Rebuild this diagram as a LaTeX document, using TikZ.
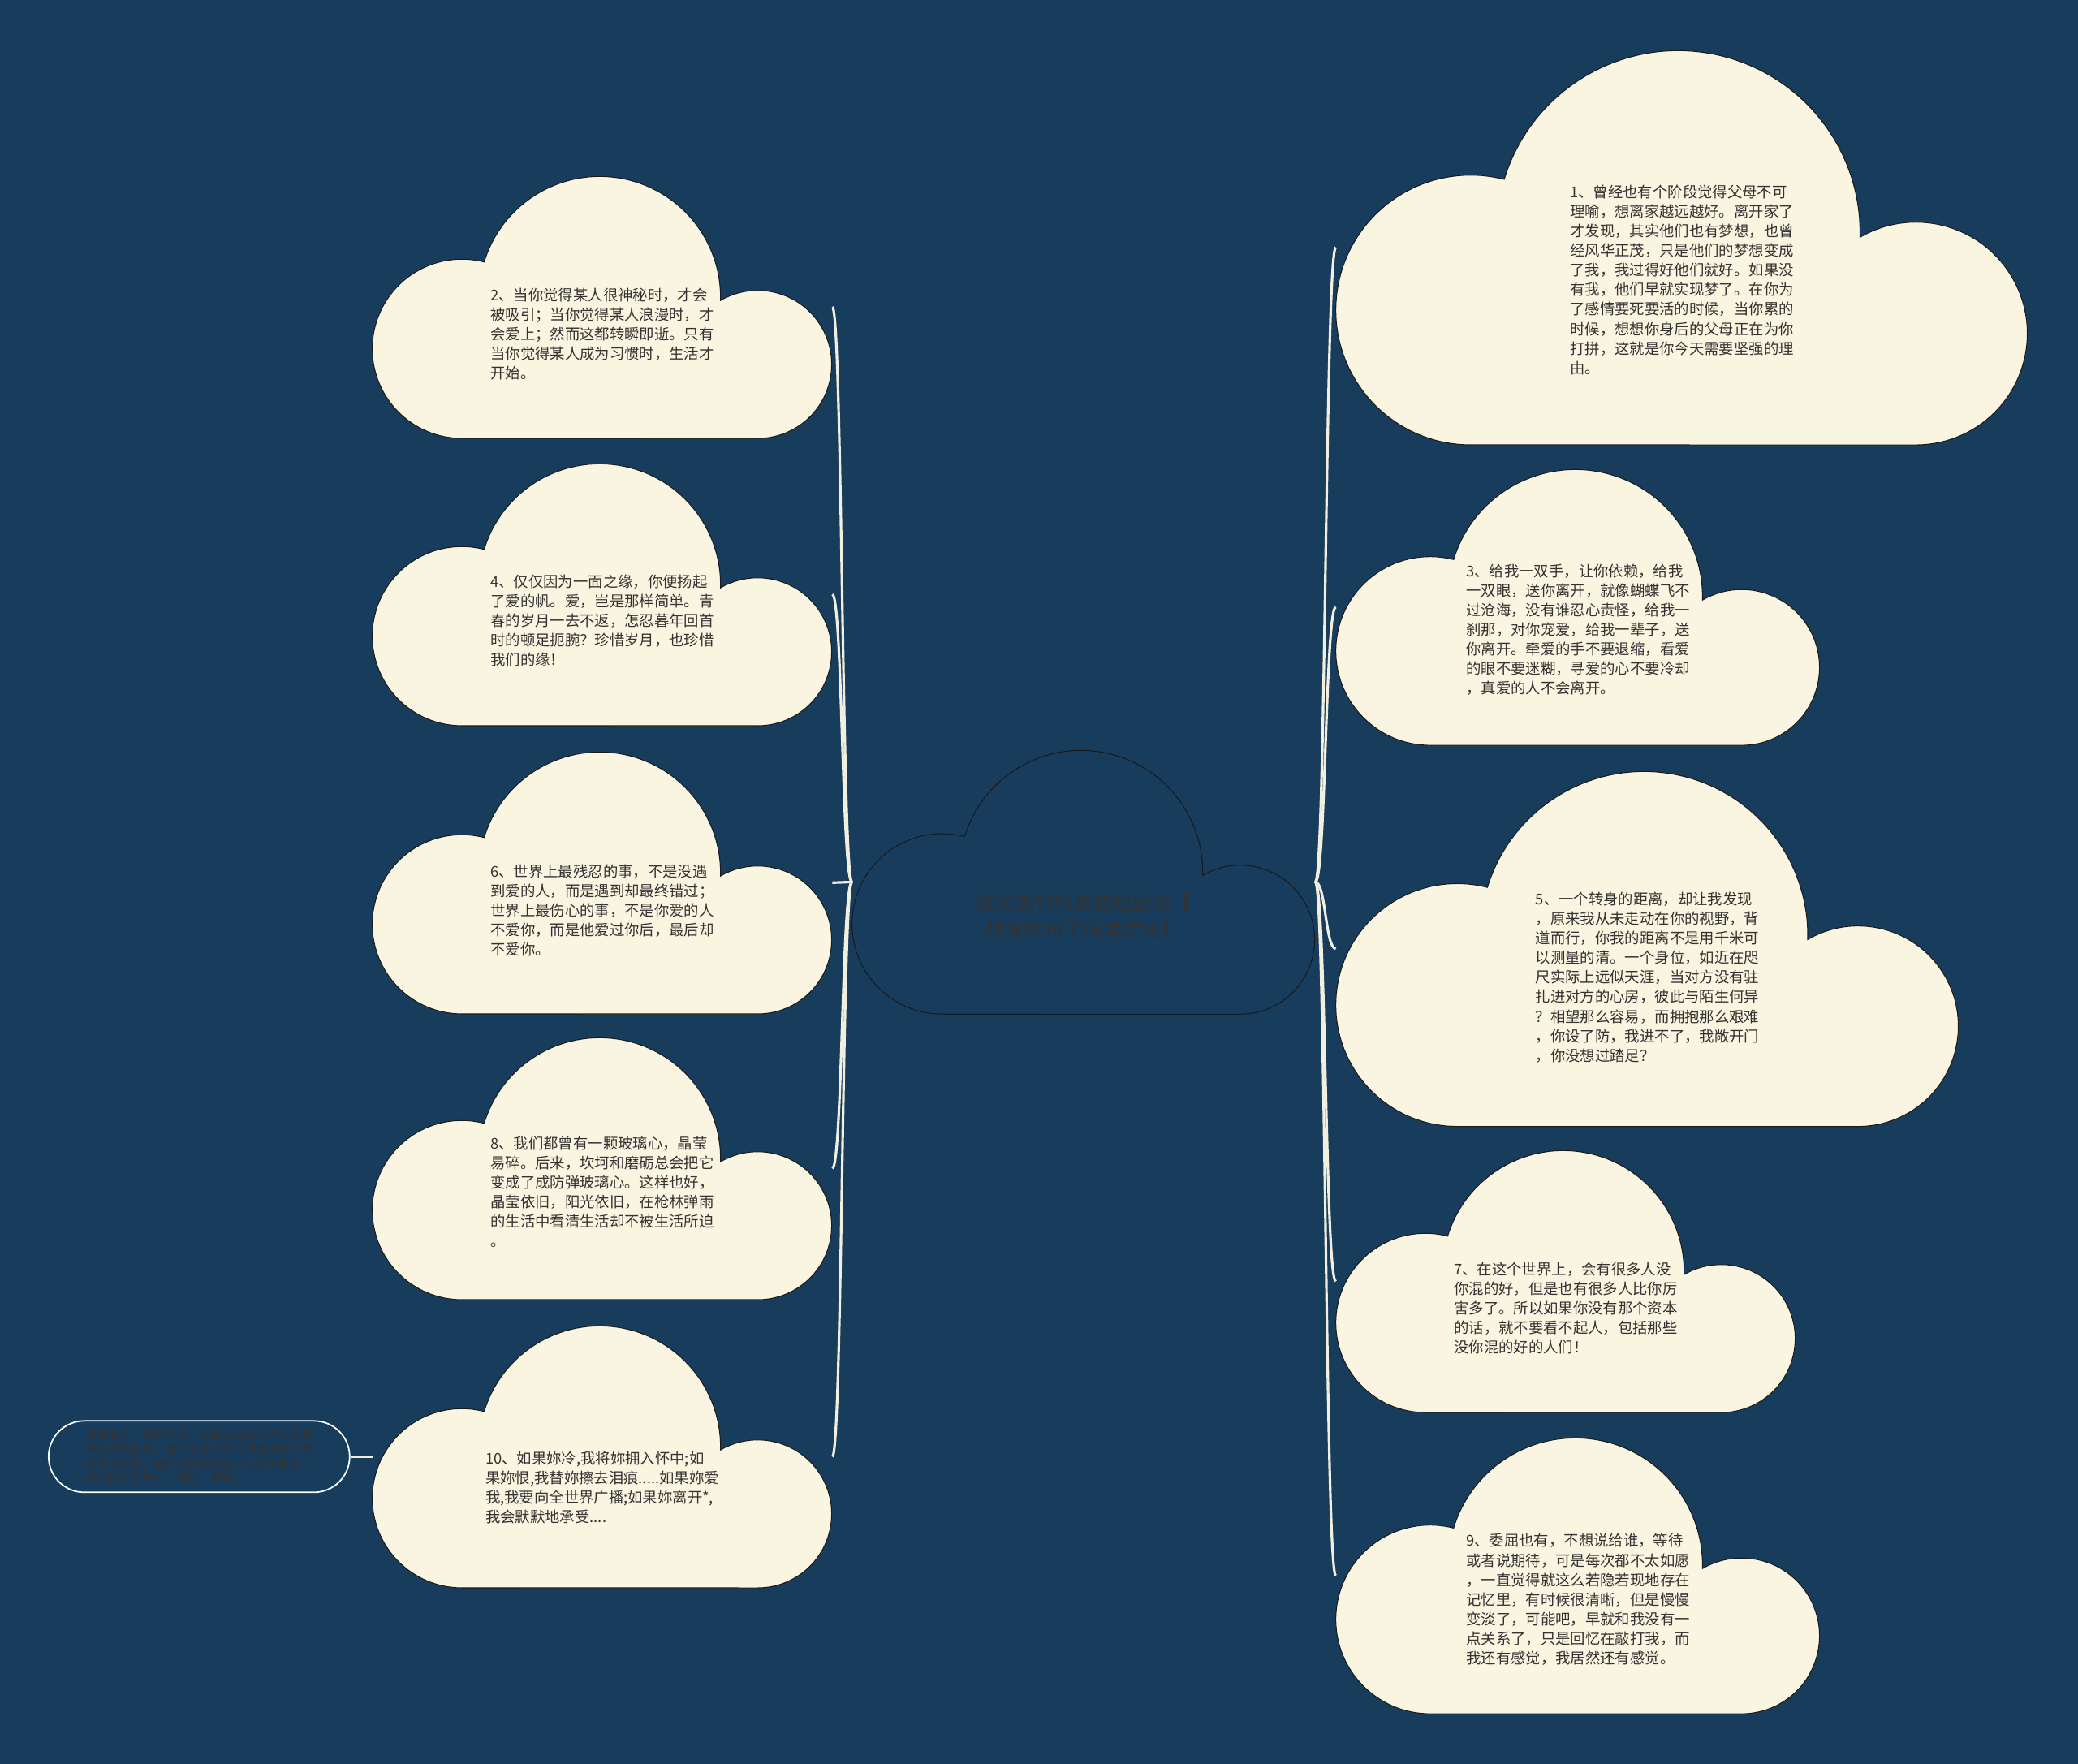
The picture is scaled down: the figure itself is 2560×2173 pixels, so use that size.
\documentclass[tikz,border=0pt]{standalone}
\usepackage{fontspec}
\setmainfont{Noto Sans CJK SC}
\usepackage{tikz}
\usetikzlibrary{positioning,backgrounds}
\definecolor{night}{HTML}{173C5C}
\definecolor{cream}{HTML}{FAF5E0}
\definecolor{ink}{HTML}{333333}
\definecolor{rim}{HTML}{1A1A1A}
\definecolor{thread}{HTML}{F3EFE0}
\tikzset{
  puffbox/.style={rectangle, inner sep=0pt, draw=none},
  puff/.style={fill=cream, draw=rim, line width=0.6pt},
  hub/.style={draw=rim, line width=0.6pt},
  idea/.style={align=left, inner sep=0pt, text=ink, font=\fontsize{10.45pt}{13.7pt}\selectfont},
  headline/.style={align=center, inner sep=0pt, text=ink, font=\fontsize{13.7pt}{18.8pt}\selectfont},
  tipbox/.style={draw=white, line width=1pt, rounded corners=0.88cm, minimum width=7.42cm,
                 minimum height=1.76cm, align=left, inner sep=0pt, text=ink,
                 font=\fontsize{8pt}{10pt}\selectfont},
  link/.style={draw=thread, line width=1.8pt},
}
% cloud outline: name, left, top, width (px), style
\newcommand{\cloudat}[5]{%
  \pgfmathsetmacro{\cloudh}{0.57*#4}%
  \node[puffbox, minimum width=#4*0.02cm, minimum height=\cloudh*0.02cm]
    (#1) at ({#2+#4/2},{-#3-\cloudh/2}) {};
  \begin{scope}[shift={(#1.south west)}, scale=#4]
    \path[#5] (0.195,0) arc[start angle=270, end angle=75.6, radius=0.195]
      arc[start angle=163, end angle=-1.5, radius=0.263]
      arc[start angle=120.2, end angle=-90, radius=0.161] -- cycle;
  \end{scope}}

\begin{document}
\begin{tikzpicture}[x=0.02cm, y=0.02cm]
\useasboundingbox (0,0) rectangle (2560,-2173);
\begin{scope}[on background layer]
\fill[night] (0,0) rectangle (2560,-2173);
\end{scope}

% --- CENTRE ---
\cloudat{title}{1050}{924}{570}{hub}
\node[headline] (titlet) at ([yshift=-0.84cm]title.center)
  {美文美句唯美简短励志【\\朋友的句子唯美简短】};

% --- LEFT ---
\cloudat{q2}{459}{217}{566}{puff}
\node[idea] (q2t) at ([yshift=-0.66cm]q2.center)
  {2、当你觉得某人很神秘时，才会\\被吸引；当你觉得某人浪漫时，才\\会爱上；然而这都转瞬即逝。只有\\当你觉得某人成为习惯时，生活才\\开始。};

\cloudat{q4}{459}{571}{566}{puff}
\node[idea] (q4t) at ([yshift=-0.64cm]q4.center)
  {4、仅仅因为一面之缘，你便扬起\\了爱的帆。爱，岂是那样简单。青\\春的岁月一去不返，怎忍暮年回首\\时的顿足扼腕？珍惜岁月，也珍惜\\我们的缘！};

\cloudat{q6}{459}{926}{566}{puff}
\node[idea] (q6t) at ([yshift=-0.69cm]q6.center)
  {6、世界上最残忍的事，不是没遇\\到爱的人，而是遇到却最终错过；\\世界上最伤心的事，不是你爱的人\\不爱你，而是他爱过你后，最后却\\不爱你。};

\cloudat{q8}{459}{1278}{566}{puff}
\node[idea] (q8t) at ([yshift=-0.58cm]q8.center)
  {8、我们都曾有一颗玻璃心，晶莹\\易碎。后来，坎坷和磨砺总会把它\\变成了成防弹玻璃心。这样也好，\\晶莹依旧，阳光依旧，在枪林弹雨\\的生活中看清生活却不被生活所迫\\。};

\cloudat{q10}{459}{1633}{566}{puff}
\node[idea] (q10t) at ([yshift=-0.76cm]q10.center)
  {10、如果妳冷,我将妳拥入怀中;如\\果妳恨,我替妳擦去泪痕.....如果妳爱\\我,我要向全世界广播;如果妳离开*,\\我会默默地承受....};

\node[tipbox] (notice) [left=0.54cm of q10]
  {温馨提示：图文无关，转载此文是出于传递更\\多信息之目的。若有来源标注错误或侵犯了您\\的合法权益，请作者持权属证明与本网联系，\\我们将及时更正、删除，谢谢。};

% --- RIGHT ---
\cloudat{q1}{1646}{62}{852}{puff}
\node[idea] (q1t) at ([yshift=-0.8cm]q1.center)
  {1、曾经也有个阶段觉得父母不可\\理喻，想离家越远越好。离开家了\\才发现，其实他们也有梦想，也曾\\经风华正茂，只是他们的梦想变成\\了我，我过得好他们就好。如果没\\有我，他们早就实现梦了。在你为\\了感情要死要活的时候，当你累的\\时候，想想你身后的父母正在为你\\打拼，这就是你今天需要坚强的理\\由。};

\cloudat{q3}{1646}{578}{596}{puff}
\node[idea] (q3t) at ([yshift=-0.56cm]q3.center)
  {3、给我一双手，让你依赖，给我\\一双眼，送你离开，就像蝴蝶飞不\\过沧海，没有谁忍心责怪，给我一\\刹那，对你宠爱，给我一辈子，送\\你离开。牵爱的手不要退缩，看爱\\的眼不要迷糊，寻爱的心不要冷却\\，真爱的人不会离开。};

\cloudat{q5}{1646}{950}{767}{puff}
\node[idea] (q5t) at ([yshift=-0.71cm]q5.center)
  {5、一个转身的距离，却让我发现\\，原来我从未走动在你的视野，背\\道而行，你我的距离不是用千米可\\以测量的清。一个身位，如近在咫\\尺实际上远似天涯，当对方没有驻\\扎进对方的心房，彼此与陌生何异\\？相望那么容易，而拥抱那么艰难\\，你设了防，我进不了，我敞开门\\，你没想过踏足？};

\cloudat{q7}{1646}{1417}{566}{puff}
\node[idea] (q7t) at ([yshift=-0.67cm]q7.center)
  {7、在这个世界上，会有很多人没\\你混的好，但是也有很多人比你厉\\害多了。所以如果你没有那个资本\\的话，就不要看不起人，包括那些\\没你混的好的人们！};

\cloudat{q9}{1646}{1771}{596}{puff}
\node[idea] (q9t) at ([yshift=-0.59cm]q9.center)
  {9、委屈也有，不想说给谁，等待\\或者说期待，可是每次都不太如愿\\，一直觉得就这么若隐若现地存在\\记忆里，有时候很清晰，但是慢慢\\变淡了，可能吧，早就和我没有一\\点关系了，只是回忆在敲打我，而\\我还有感觉，我居然还有感觉。};

% --- LINKS ---
\begin{scope}[on background layer]
\draw[link] (title.west) .. controls +(-12.5,0) and +(12.5,0) .. (q2.east);
\draw[link] (title.west) .. controls +(-12.5,0) and +(12.5,0) .. (q4.east);
\draw[link] (title.west) -- (q6.east);
\draw[link] (title.west) .. controls +(-12.5,0) and +(12.5,0) .. (q8.east);
\draw[link] (title.west) .. controls +(-12.5,0) and +(12.5,0) .. (q10.east);
\draw[link] (title.east) .. controls +(13,0) and +(-13,0) .. (q1.west);
\draw[link] (title.east) .. controls +(13,0) and +(-13,0) .. (q3.west);
\draw[link] (title.east) .. controls +(13,0) and +(-13,0) .. (q5.west);
\draw[link] (title.east) .. controls +(13,0) and +(-13,0) .. (q7.west);
\draw[link] (title.east) .. controls +(13,0) and +(-13,0) .. (q9.west);
\draw[link] (notice.east) -- (q10.west);
\end{scope}

\end{tikzpicture}
\end{document}
